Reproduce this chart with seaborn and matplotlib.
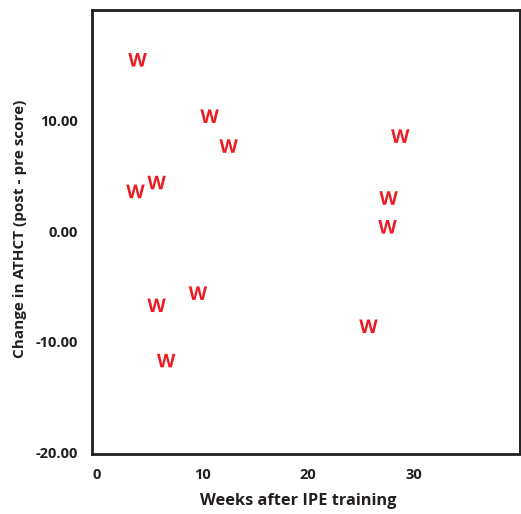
# Import libraries
import matplotlib
matplotlib.use('Agg')
import matplotlib.pyplot as plt
import seaborn as sns
import pandas as pd

# Data
weeks = [3.9, 10.7, 12.5, 28.7, 3.7, 5.7, 27.6, 27.5, 9.6, 5.7, 25.7, 6.6]
change = [15.5, 10.4, 7.7, 8.6, 3.6, 4.4, 3.0, 0.4, -5.6, -6.7, -8.6, -11.7]
x_ticks = [0, 10, 20, 30]
y_ticks = [-20, -10, 0, 10]

df = pd.DataFrame({'weeks': weeks, 'change': change})

sns.set_style('white')
plt.rcParams['font.family'] = ['Open Sans', 'DejaVu Sans']
plt.rcParams['mathtext.fontset'] = 'custom'
plt.rcParams['mathtext.bf'] = 'Open Sans:bold'

fig = plt.figure(figsize=(5.21, 5.14), dpi=100)
ax = fig.add_axes([0.1766, 0.1167, 0.8214, 0.8638])

# W markers drawn as text-shaped markers
sns.scatterplot(data=df, x='weeks', y='change', marker=r'$\mathbf{W}$',
                s=175, color='#ed1c24', edgecolor='none', linewidth=0, ax=ax)

ax.set_xlim(-0.4, 40)
ax.set_ylim(-20.15, 20)
ax.set_xticks(x_ticks)
ax.set_yticks(y_ticks)
ax.set_yticklabels([f'{v:.2f}' for v in y_ticks])
ax.tick_params(length=0, pad=10, labelsize=10.5, labelcolor='#231f20')
for lab in ax.get_xticklabels() + ax.get_yticklabels():
    lab.set_fontweight('bold')

ax.set_xlabel('Weeks after IPE training', fontsize=11.8, fontweight='bold',
              color='#231f20', va='center')
ax.set_ylabel('Change in ATHCT (post - pre score)', fontsize=11,
              fontweight='bold', color='#231f20', va='center')
ax.xaxis.set_label_coords(0.482, -0.106)
ax.yaxis.set_label_coords(-0.168, 0.507)

for side, sp in ax.spines.items():
    sp.set_visible(True)
    sp.set_color('#231f20')
    sp.set_linewidth(2.0 if side in ('left', 'bottom', 'top') else 1.4)

fig.savefig('out.png', dpi=100)
